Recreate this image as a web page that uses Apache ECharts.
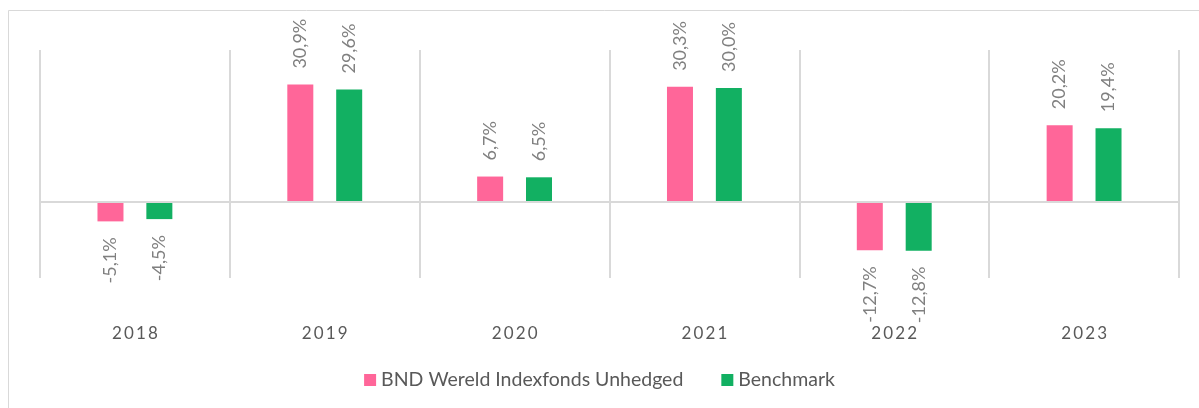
<!DOCTYPE html>
<html>
<head>
<meta charset="utf-8">
<script src="https://cdn.jsdelivr.net/npm/echarts@6/dist/echarts.min.js"></script>
<style>
html,body{margin:0;padding:0;background:#fff;}
#chart{width:1199px;height:408px;}
</style>
</head>
<body>
<div id="chart"></div>
<script>
const categories = ['2018', '2019', '2020', '2021', '2022', '2023'];
const fundName = 'BND Wereld Indexfonds Unhedged';
const benchName = 'Benchmark';
const fundValues = [-5.1, 30.9, 6.7, 30.3, -12.7, 20.2];
const benchValues = [-4.5, 29.6, 6.5, 30.0, -12.8, 19.4];

const PINK = '#FF6699';
const GREEN = '#12B062';
const FONT = 'Lato, "Open Sans", sans-serif';

function fmt(v) {
  return v.toFixed(1).replace('.', ',') + '%';
}
function toItems(arr) {
  return arr.map(v => ({
    value: v,
    label: v >= 0
      ? { position: 'top', rotate: 90, align: 'left', verticalAlign: 'middle' }
      : { position: 'bottom', rotate: 90, align: 'right', verticalAlign: 'middle' }
  }));
}
const labelBase = {
  show: true,
  distance: 16,
  color: '#808080',
  fontFamily: FONT,
  fontSize: 18,
  formatter: p => fmt(p.value)
};

const chart = echarts.init(document.getElementById('chart'), null, { renderer: 'canvas' });
chart.setOption({
  animation: false,
  backgroundColor: '#ffffff',
  graphic: [{
    type: 'rect',
    shape: { x: 8.5, y: 10.5, width: 1200, height: 410 },
    style: { fill: 'none', stroke: '#d9d9d9', lineWidth: 1 },
    z: -1
  }],
  grid: { left: 40, right: 20, top: 50, bottom: 130 },
  legend: {
    top: 365,
    left: 'center',
    itemWidth: 12,
    itemHeight: 12,
    itemGap: 38,
    icon: 'rect',
    textStyle: { color: '#595959', fontFamily: FONT, fontSize: 19.5 },
    data: [fundName, benchName]
  },
  xAxis: {
    type: 'category',
    data: categories,
    axisLine: { show: false, onZero: false },
    axisTick: { show: false },
    splitLine: { show: true, lineStyle: { color: '#d9d9d9', width: 2 } },
    axisLabel: {
      margin: 47,
      color: '#595959',
      fontFamily: FONT,
      fontSize: 17,
      formatter: v => v.split('').join('\u2009')
    }
  },
  yAxis: {
    type: 'value',
    min: -20,
    max: 40,
    interval: 20,
    show: false,
    splitLine: { show: false }
  },
  series: [
    {
      name: fundName,
      type: 'bar',
      data: toItems(fundValues),
      barWidth: 26,
      barGap: '88%',
      itemStyle: { color: PINK },
      label: labelBase,
      markLine: {
        silent: true,
        symbol: 'none',
        label: { show: false },
        lineStyle: { color: '#d9d9d9', width: 2, type: 'solid' },
        data: [{ yAxis: 0 }]
      }
    },
    {
      name: benchName,
      type: 'bar',
      data: toItems(benchValues),
      barWidth: 26,
      barGap: '88%',
      itemStyle: { color: GREEN },
      label: labelBase
    }
  ]
});
</script>
</body>
</html>
